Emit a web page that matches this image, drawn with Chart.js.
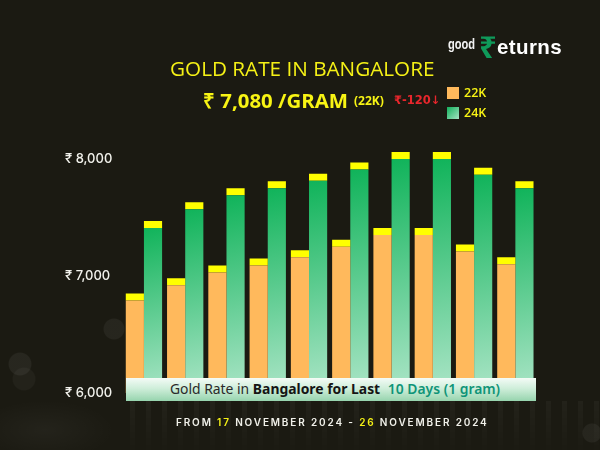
<!DOCTYPE html>
<html lang="en">
<head>
<meta charset="UTF-8" />
<title>Gold Rate in Bangalore</title>
<script src="https://cdn.jsdelivr.net/npm/chart.js"></script>
<style>
  html, body { margin: 0; padding: 0; }
  body {
    width: 600px; height: 450px; overflow: hidden; position: relative;
    background: #1b1a12;
    font-family: "Open Sans", sans-serif;
  }
  #bg {
    position: absolute; left: 0; top: 300px; width: 600px; height: 150px;
    background:
      radial-gradient(circle 12px at 20px 64px, rgba(255,255,255,0.055) 90%, transparent),
      radial-gradient(circle 12px at 24px 79px, rgba(255,255,255,0.035) 90%, transparent),
      radial-gradient(circle 11px at 114px 29px, rgba(255,255,255,0.05) 90%, transparent),
      radial-gradient(circle 10px at 592px 133px, rgba(255,255,255,0.05) 90%, transparent),
      radial-gradient(ellipse 70px 30px at 45px 130px, rgba(255,255,255,0.04), transparent);
  }
  #bgbars {
    position: absolute; left: 130px; top: 401px; width: 470px; height: 49px;
    background: repeating-linear-gradient(90deg, rgba(255,255,255,0.035) 0 5px, transparent 5px 16px);
    -webkit-mask-image: linear-gradient(rgba(0,0,0,1), rgba(0,0,0,0.2));
  }
  canvas { position: absolute; left: 0; top: 0; }
  .t { position: absolute; white-space: nowrap; line-height: 1; }
  #title { left: 170px; top: 58px; font-size: 20.7px; color: #f5f116; font-family: "Open Sans"; }
  #price { left: 203px; top: 90px; font-size: 20.4px; font-weight: 700; color: #f8f414; font-family: "Open Sans"; }
  #unit { left: 354px; top: 95px; font-size: 12px; font-weight: 700; color: #f8f414; }
  #drop { left: 394px; top: 95px; font-size: 11.5px; font-weight: 600; color: #e8262c; font-family: "DejaVu Sans"; }
  .sw { position: absolute; left: 447px; width: 12px; height: 12px; }
  .lg { left: 464px; font-size: 12.5px; font-weight: 600; color: #f8f414; }
  #good { left: 448px; top: 36px; font-size: 15px; font-weight: 700; color: #f2f2f2; font-family: "Liberation Sans"; transform: scaleX(0.74); transform-origin: left; }
  #rs { left: 479px; top: 31px; font-size: 31px; font-weight: 700; color: #0f9a5a; font-family: "Noto Sans"; }
  #eturns { left: 497px; top: 37px; font-size: 20.5px; font-weight: 700; letter-spacing: 0.4px; color: #fff; font-family: "Liberation Sans"; }
  #banner {
    position: absolute; left: 125.5px; top: 378px; width: 401px; height: 23px; padding-left: 9px;
    background: linear-gradient(#f4fbf6, #cfeeda 45%, #96d4ae);
    text-align: center; line-height: 22px; font-size: 13.9px; color: #2a2a2a;
    font-family: "Noto Sans"; white-space: nowrap;
  }
  #banner b { color: #151515; }
  #banner span { color: #0f9478; font-weight: 600; margin-left: 4px; }
  #dates {
    left: 176px; top: 417px; font-size: 10px; font-weight: 600; letter-spacing: 1.85px;
    color: #f1f1ea; font-family: "Inter";
  }
  #dates em { font-style: normal; color: #f5f116; }
</style>
</head>
<body>
<div id="bg"></div>
<div id="bgbars"></div>
<canvas id="goldChart" width="600" height="450"></canvas>

<div class="t" id="good">good</div>
<div class="t" id="rs">₹</div>
<div class="t" id="eturns">eturns</div>
<div class="t" id="title">GOLD RATE IN BANGALORE</div>
<div class="t" id="price">₹ 7,080 /GRAM</div>
<div class="t" id="unit">(22K)</div>
<div class="t" id="drop">₹-120↓</div>
<div class="sw" style="top:87px;background:#ffb95c"></div>
<div class="t lg" style="top:87px">22K</div>
<div class="sw" style="top:107px;background:linear-gradient(135deg,#12b15c,#a5e3c3)"></div>
<div class="t lg" style="top:107px">24K</div>
<div id="banner">Gold Rate in <b>Bangalore for Last</b> <span>10 Days (1 gram)</span></div>
<div class="t" id="dates">FROM <em>17</em> NOVEMBER 2024 - <em>26</em> NOVEMBER 2024</div>

<script>
  const days = ["17 Nov", "18 Nov", "19 Nov", "20 Nov", "21 Nov", "22 Nov", "23 Nov", "24 Nov", "25 Nov", "26 Nov"];
  const rate22k = [6790, 6920, 7030, 7090, 7160, 7250, 7350, 7350, 7210, 7100];
  const rate24k = [7410, 7570, 7690, 7750, 7815, 7910, 8000, 8000, 7865, 7750];
  const cap22k = [60, 60, 60, 60, 60, 60, 60, 60, 60, 60];
  const cap24k = [60, 60, 60, 60, 60, 60, 60, 60, 60, 60];
  const yTicks = [6000, 7000, 8000];

  // each green bar gets its own fade, dark at its top, pale at the base
  function greenFade(context) {
    const chart = context.chart;
    if (!chart.chartArea) return "#12b15c";
    const y = chart.scales.y;
    const top = y.getPixelForValue(rate24k[context.dataIndex]);
    const bottom = y.getPixelForValue(6000);
    const x = chart.scales.x.getPixelForValue(context.dataIndex);
    const g = chart.ctx.createLinearGradient(x, top, x + 40, bottom);
    g.addColorStop(0, "#10b35a");
    g.addColorStop(1, "#aee6c9");
    return g;
  }

  new Chart(document.getElementById("goldChart").getContext("2d"), {
    type: "bar",
    data: {
      labels: days,
      datasets: [
        { label: "22K", data: rate22k, backgroundColor: "#ffb95c", stack: "22K" },
        { label: "22K cap", data: cap22k, backgroundColor: "#ffff00", stack: "22K" },
        { label: "24K", data: rate24k, backgroundColor: greenFade, stack: "24K" },
        { label: "24K cap", data: cap24k, backgroundColor: "#ffff00", stack: "24K" },
      ],
    },
    options: {
      responsive: false,
      animation: false,
      layout: { padding: { left: 65, right: 64, top: 135.6, bottom: 57 } },
      categoryPercentage: 0.88,
      barPercentage: 1,
      plugins: { legend: { display: false }, title: { display: false }, tooltip: { enabled: false } },
      scales: {
        x: { stacked: true, display: false },
        y: {
          stacked: true,
          min: 6000,
          max: 8200,
          afterFit: (axis) => { axis.width = 58.3; },
          afterBuildTicks: (axis) => { axis.ticks = yTicks.map((v) => ({ value: v })); },
          grid: { display: false },
          border: { display: false },
          ticks: {
            color: "#f2f2ec",
            padding: 0,
            crossAlign: "far",
            font: { family: "Inter", size: 13, weight: "500" },
            callback: (v) => "₹ " + v.toLocaleString("en-US"),
          },
        },
      },
    },
  });
</script>
</body>
</html>
